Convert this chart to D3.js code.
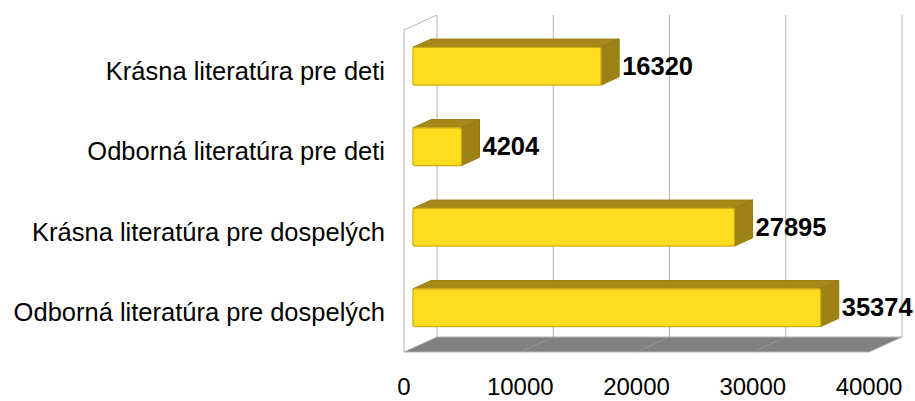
<!DOCTYPE html>
<html>
<head>
  <meta charset="utf-8">
  <script src="https://d3js.org/d3.v7.min.js"></script>
  <style>
    body { margin: 0; background: #fff; }
    text { font-family: "Liberation Sans", Arial, sans-serif; }
  </style>
</head>
<body>
  <div id="my_dataviz"></div>
  <script>
    // data
    var categories = ["Krásna literatúra pre deti", "Odborná literatúra pre deti",
                      "Krásna literatúra pre dospelých", "Odborná literatúra pre dospelých"];
    var values = [16320, 4204, 27895, 35374];
    var tickValues = [0, 10000, 20000, 30000, 40000];

    var W = 915, H = 401;
    // front plane of the 3d box
    var plotLeft = 404, plotRight = 869, plotTop = 30, plotBottom = 352;
    // offset of the back wall
    var depthX = 33, depthY = -15;
    // bars sit between these depths (0 = front, 1 = back)
    var z0 = 0.27, z1 = 0.82;

    var svg = d3.select("#my_dataviz")
      .append("svg")
      .attr("width", W)
      .attr("height", H);

    var x = d3.scaleLinear().domain([0, 40000]).range([plotLeft, plotRight]);
    // bar length scale (bars sit a bit inside the box, slightly shorter)
    var xb = d3.scaleLinear().domain([0, 40000]).range([0, 461]);
    var y = d3.scaleBand().domain(categories).range([plotTop, plotBottom]).paddingInner(0.53).paddingOuter(0.265);

    function px(v, z) { return x(v) + depthX * z; }
    function bx(v, z) { return px(0, 0) + xb(v) + depthX * z; }
    function py(yy, z) { return yy + depthY * z; }
    function pts(arr) { return arr.map(function(p) { return p.join(","); }).join(" "); }

    // left side wall outline
    svg.append("path")
      .attr("d", "M" + plotLeft + "," + plotBottom + " L" + plotLeft + "," + plotTop +
                 " L" + (plotLeft + depthX) + "," + (plotTop + depthY))
      .attr("fill", "none")
      .attr("stroke", "#b3b3b3")
      .attr("stroke-width", 1);

    // back wall gridlines
    svg.append("g")
      .selectAll("line")
      .data(tickValues)
      .enter()
      .append("line")
      .attr("x1", function(d) { return px(d, 1); })
      .attr("x2", function(d) { return px(d, 1); })
      .attr("y1", plotTop + depthY)
      .attr("y2", plotBottom + depthY)
      .attr("stroke", "#b3b3b3")
      .attr("stroke-width", 1);

    // floor
    svg.append("polygon")
      .attr("points", pts([[px(0, 0), plotBottom], [px(0, 1), plotBottom + depthY],
                           [px(40000, 1), plotBottom + depthY], [px(40000, 0), plotBottom]]))
      .attr("fill", "#808080")
      .attr("stroke", "#b3b3b3")
      .attr("stroke-width", 1);

    svg.append("g")
      .selectAll("line")
      .data(tickValues.slice(1, 4))
      .enter()
      .append("line")
      .attr("x1", function(d) { return px(d, 0); })
      .attr("x2", function(d) { return px(d, 1); })
      .attr("y1", plotBottom)
      .attr("y2", plotBottom + depthY)
      .attr("stroke", "#9a9a9a")
      .attr("stroke-width", 0.8);

    // bars
    var bars = svg.append("g")
      .selectAll("g")
      .data(categories.map(function(c, i) { return { cat: c, value: values[i] }; }))
      .enter()
      .append("g");

    function yTop(d) { return y(d.cat) + depthY * z0; }
    function yBot(d) { return y(d.cat) + y.bandwidth() + depthY * z0; }

    // top face
    bars.append("polygon")
      .attr("points", function(d) {
        var t = yTop(d);
        return pts([[bx(0, z0), t], [bx(0, z1), py(t, z1 - z0)],
                    [bx(d.value, z1), py(t, z1 - z0)], [bx(d.value, z0), t]]);
      })
      .attr("fill", "#a58818")
      .attr("stroke", "#9a7f14")
      .attr("stroke-width", 1)
      .attr("stroke-linejoin", "round");

    // right face
    bars.append("polygon")
      .attr("points", function(d) {
        var t = yTop(d), b = yBot(d);
        return pts([[bx(d.value, z0), t], [bx(d.value, z1), py(t, z1 - z0)],
                    [bx(d.value, z1), py(b, z1 - z0)], [bx(d.value, z0), b]]);
      })
      .attr("fill", "#9f8216")
      .attr("stroke", "#947813")
      .attr("stroke-width", 1)
      .attr("stroke-linejoin", "round");

    // front face
    bars.append("rect")
      .attr("x", function(d) { return bx(0, z0); })
      .attr("y", function(d) { return yTop(d); })
      .attr("width", function(d) { return xb(d.value); })
      .attr("height", y.bandwidth())
      .attr("rx", 2)
      .attr("fill", "#fedd21")
      .attr("stroke", "#cfae12")
      .attr("stroke-width", 1.2);

    // value labels
    bars.append("text")
      .attr("x", function(d) { return bx(d.value, z1) + 3; })
      .attr("y", function(d) { return yTop(d) + y.bandwidth() / 2 + 2; })
      .attr("dominant-baseline", "middle")
      .style("font-size", "25.5px")
      .style("font-weight", "bold")
      .attr("fill", "#000")
      .text(function(d) { return d.value; });

    // category labels
    svg.append("g")
      .selectAll("text")
      .data(categories)
      .enter()
      .append("text")
      .attr("x", 385)
      .attr("y", function(d) { return y(d) + y.bandwidth() / 2 + 3; })
      .attr("text-anchor", "end")
      .attr("dominant-baseline", "middle")
      .style("font-size", "25.5px")
      .attr("fill", "#000")
      .text(function(d) { return d; });

    // x tick labels
    svg.append("g")
      .selectAll("text")
      .data(tickValues)
      .enter()
      .append("text")
      .attr("x", function(d) { return x(d); })
      .attr("y", 389)
      .attr("text-anchor", "middle")
      .attr("dominant-baseline", "middle")
      .style("font-size", "24px")
      .attr("fill", "#000")
      .text(function(d) { return d; });
  </script>
</body>
</html>
